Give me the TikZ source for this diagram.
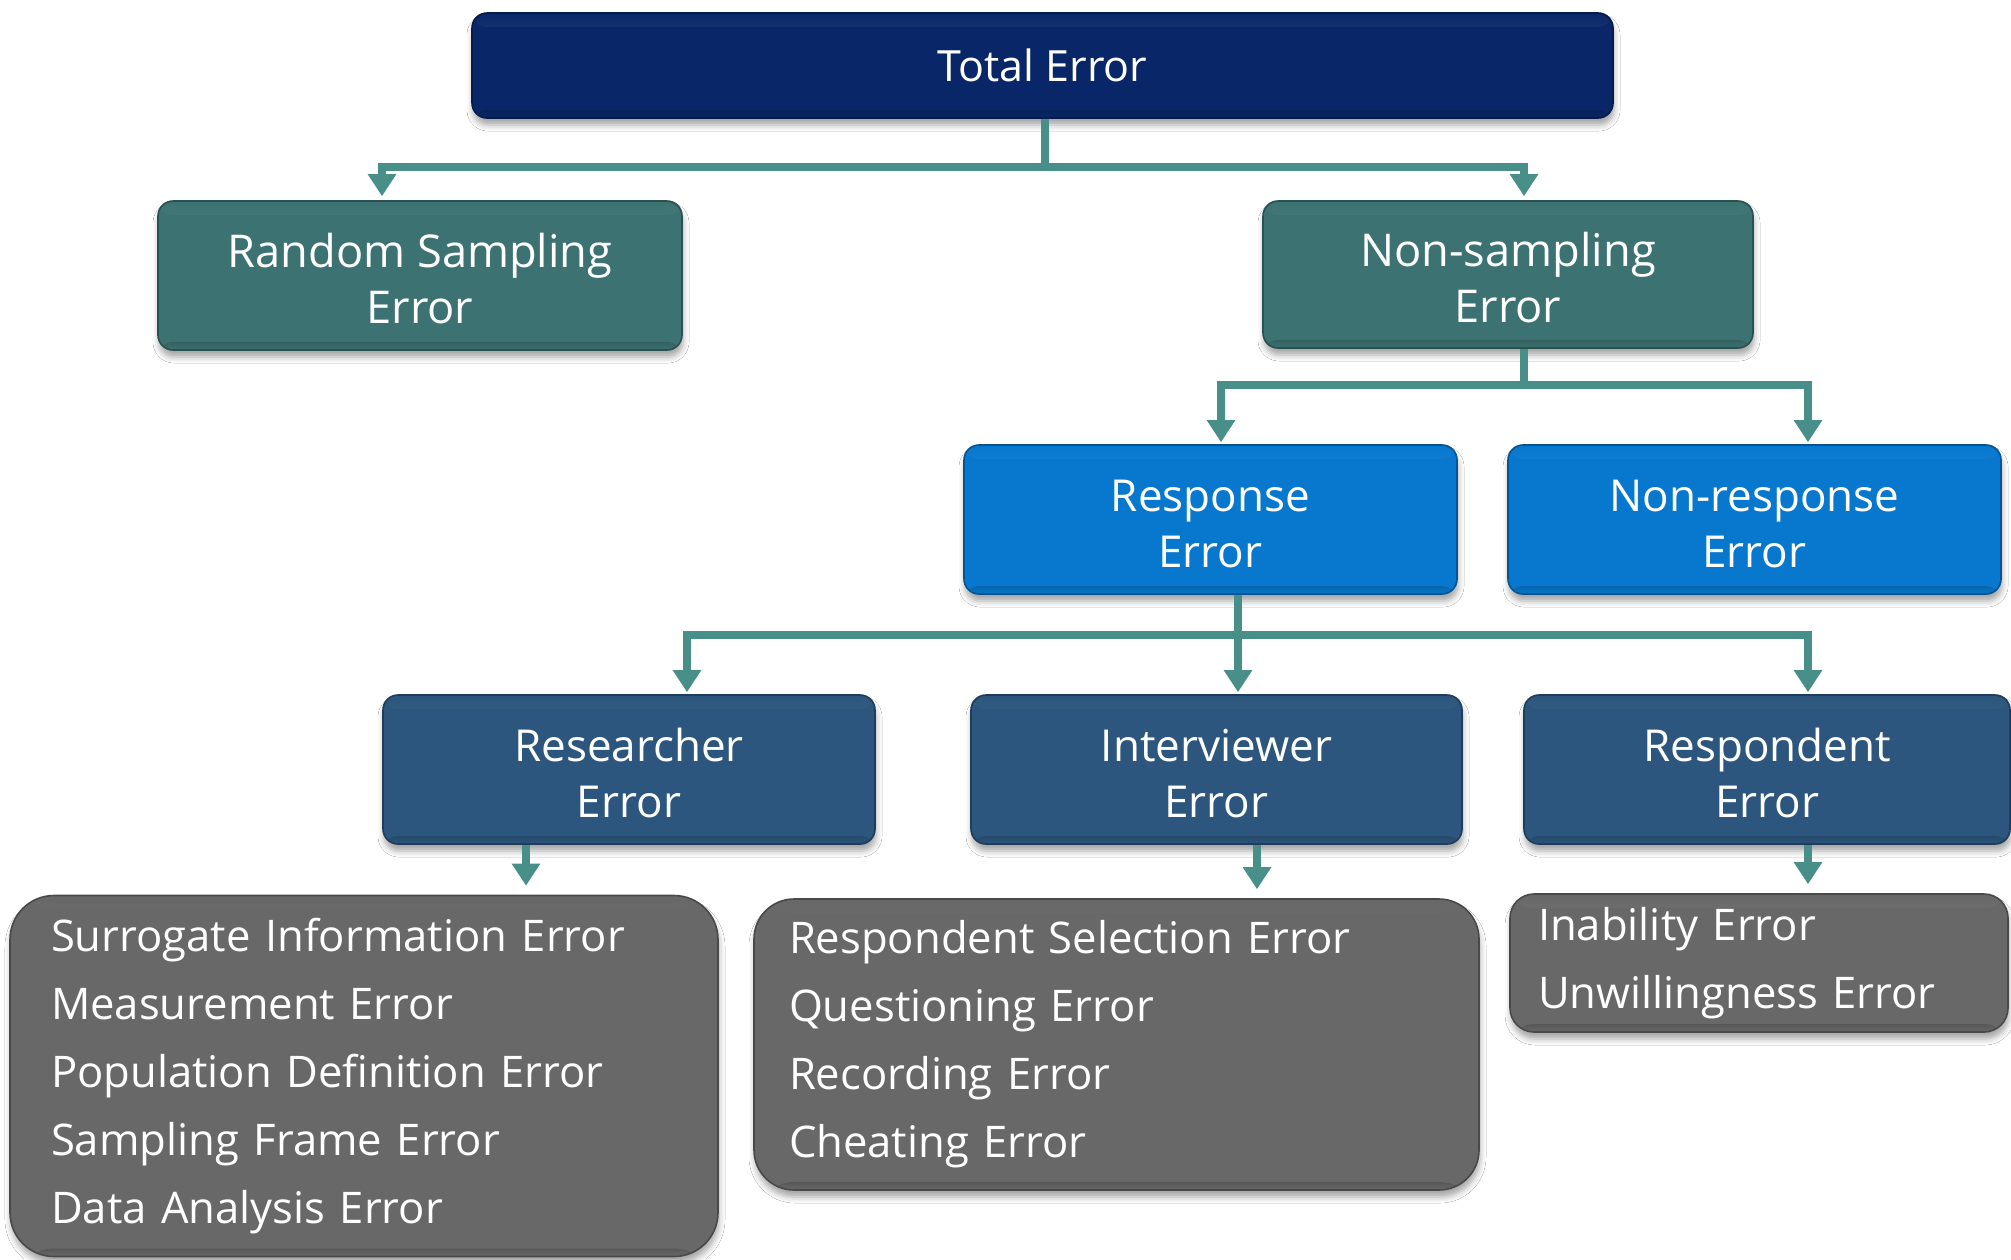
\documentclass[tikz,border=0pt]{standalone}
\usepackage{fontspec}
\setmainfont{Open Sans}
\usetikzlibrary{arrows.meta,shadows.blur,fadings}

\definecolor{totC}{RGB}{9,39,104}
\definecolor{tealC}{RGB}{60,115,114}
\definecolor{blueC}{RGB}{7,120,206}
\definecolor{navyC}{RGB}{44,86,125}
\definecolor{grayC}{RGB}{104,104,104}
\definecolor{connC}{RGB}{72,143,138}

% taller first line, so that two-line labels sit a little lower in their boxes
\newcommand\labelstrut{\rule{0pt}{20.2pt}}

\begin{document}
\begin{tikzpicture}[x=0.5pt,y=-0.5pt,
  softshadow/.style={blur shadow={shadow xshift=0.5pt, shadow yshift=-3.5pt,
      shadow blur radius=3pt, shadow opacity=35}},
  bevel/.style={path picture={
      \fill[white, opacity=0.35, path fading=north]
        (path picture bounding box.north west) rectangle
        ([yshift=-7pt]path picture bounding box.north east);
      \fill[black, opacity=0.15, path fading=south]
        ([yshift=4pt]path picture bounding box.south west) rectangle
        (path picture bounding box.south east);}},
  box/.style={rectangle, rounded corners=7.5pt, fill=#1, draw=#1!70!black,
      line width=0.8pt, text=white, align=center, inner sep=0pt,
      font=\fontsize{22pt}{28pt}\selectfont, softshadow, bevel},
  gbox/.style={rectangle, rounded corners=#1, fill=grayC, draw=grayC!70!black,
      line width=0.8pt, text=white, align=left, inner ysep=0pt,
      font=\fontsize{21.8pt}{34pt}\selectfont, softshadow, bevel},
  conn/.style={draw=connC, line width=4pt, line join=miter},
  tip/.style={-{Triangle[width=13.5pt,length=11pt]}},
  tips/.style={{Triangle[width=13.5pt,length=11pt]}-{Triangle[width=13.5pt,length=11pt]}}
]
\useasboundingbox (0,0) rectangle (2011,1259);
\fill[white] (0,0) rectangle (2011,1259);

% top level
\node[box=totC, font=\fontsize{21.5pt}{28pt}\selectfont,
      minimum width=570.5pt, minimum height=52.5pt] (tot) at (1042.5,65.5) {Total Error};

% second level
\node[box=tealC, font=\fontsize{22.6pt}{28pt}\selectfont, minimum width=262pt, minimum height=74.5pt] (rs) at (420,275.5) {\labelstrut Random Sampling\\Error};
\node[box=tealC, font=\fontsize{22.6pt}{28pt}\selectfont, minimum width=245pt, minimum height=73.5pt] (ns) at (1508,274.5) {\labelstrut Non-sampling\\Error};

% third level
\node[box=blueC, minimum width=246.5pt, minimum height=74.5pt] (resp) at (1210.5,519.5) {\labelstrut Response\\Error};
\node[box=blueC, minimum width=246.5pt, minimum height=74.5pt] (nonr) at (1754.5,519.5) {\labelstrut Non-response\\Error};

% fourth level
\node[box=navyC, minimum width=246pt, minimum height=74.5pt] (rese) at (629,769.5) {\labelstrut Researcher\\Error};
\node[box=navyC, minimum width=245.5pt, minimum height=74.5pt] (intv) at (1216.5,769.5) {\labelstrut Interviewer\\Error};
\node[box=navyC, minimum width=243pt, minimum height=74.5pt] (rspd) at (1767,769.5) {\labelstrut Respondent\\Error};

% lists of error sources
\node[gbox=22pt, minimum width=354pt, minimum height=180.5pt, inner xsep=20.5pt, text width=313pt] (g1) at (364,1076)
  {Surrogate Information Error\\Measurement Error\\Population Definition Error\\Sampling Frame Error\\Data Analysis Error};
\node[gbox=20pt, minimum width=362.5pt, minimum height=145.5pt, inner xsep=17.5pt, text width=327.5pt] (g2) at (1116.5,1044.5)
  {Respondent Selection Error\\Questioning Error\\Recording Error\\Cheating Error};
\node[gbox=12pt, minimum width=249pt, minimum height=69pt, inner xsep=14pt, text width=221pt] (g3) at (1759,963)
  {Inability Error\\Unwillingness Error};

% junction points of the connectors
\coordinate (tM) at (1045,167);
\coordinate (tA) at (382,167);
\coordinate (tB) at (1524,167);
\coordinate (nA) at (1221,385);
\coordinate (nM) at (1524,385);
\coordinate (nB) at (1808,385);
\coordinate (rA) at (687,635);
\coordinate (rM) at (1238,635);
\coordinate (rB) at (1808,635);
\coordinate (lA) at (526,0);
\coordinate (lB) at (1257,0);
\coordinate (lC) at (1808,0);

% Total Error branches
\draw[conn] (tot.south -| tM) -- (tM);
\draw[conn, tips, shorten <=2pt, shorten >=2pt] (rs.north -| tA) -- (tA) -- (tB) -- (ns.north -| tB);

% Non-sampling Error branches
\draw[conn] (ns.south -| nM) -- (nM);
\draw[conn, tips, shorten <=1pt, shorten >=1pt] (resp.north -| nA) -- (nA) -- (nB) -- (nonr.north -| nB);

% Response Error branches
\draw[conn] (resp.south -| rM) -- (rM);
\draw[conn, tips, shorten <=1pt, shorten >=1pt] (rese.north -| rA) -- (rA) -- (rB) -- (rspd.north -| rB);
\draw[conn, tip, shorten >=1pt] (rM) -- (intv.north -| rM);

% into the lists
\draw[conn, tip, shorten >=4.5pt] (rese.south -| lA) -- (g1.north -| lA);
\draw[conn, tip, shorten >=4.5pt] (intv.south -| lB) -- (g2.north -| lB);
\draw[conn, tip, shorten >=4.5pt] (rspd.south -| lC) -- (g3.north -| lC);
\end{tikzpicture}
\end{document}
